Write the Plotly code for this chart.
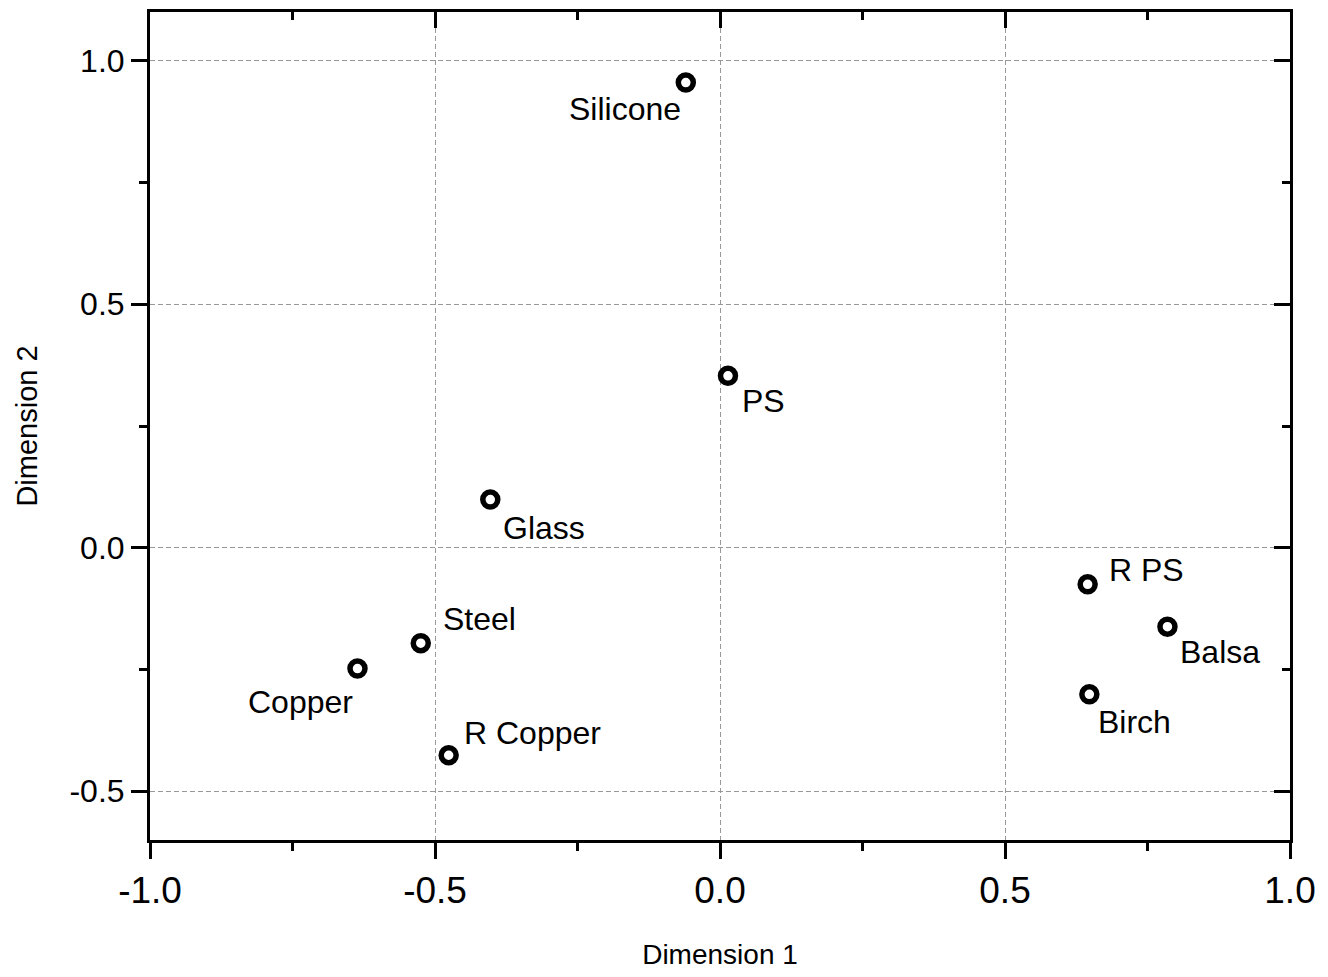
import plotly.graph_objects as go

# Data
materials = ["Silicone", "PS", "Glass", "R PS", "Balsa", "Birch", "Steel", "Copper", "R Copper"]
dim1 = [-0.060, 0.014, -0.403, 0.645, 0.785, 0.648, -0.525, -0.636, -0.476]
dim2 = [0.955, 0.353, 0.099, -0.075, -0.162, -0.301, -0.196, -0.248, -0.426]

x_ticks = [-1.0, -0.5, 0.0, 0.5, 1.0]
y_ticks = [-0.5, 0.0, 0.5, 1.0]

# Label placement (styles): anchor, xshift, yshift in px
label_style = {
    "Silicone": ("right", -3, -26),
    "PS": ("left", 12, -25),
    "Glass": ("left", 11, -28),
    "R PS": ("left", 19, 14),
    "Balsa": ("left", 11, -25),
    "Birch": ("left", 7, -28),
    "Steel": ("left", 20, 24),
    "Copper": ("right", -2, -33),
    "R Copper": ("left", 13, 22),
}

FONT = "Liberation Sans, Arial, sans-serif"
GRID = "#999999"

fig = go.Figure()
fig.add_trace(go.Scatter(
    x=dim1, y=dim2, mode="markers",
    marker=dict(symbol="circle-open", size=15, color="black", line=dict(width=5.5, color="black")),
    hoverinfo="text", text=materials, showlegend=False,
))
# invisible trace to activate mirror axes
fig.add_trace(go.Scatter(
    x=dim1, y=dim2, mode="markers", xaxis="x2", yaxis="y2",
    marker=dict(opacity=0), hoverinfo="skip", showlegend=False,
))

for name, xv, yv in zip(materials, dim1, dim2):
    anchor, xs, ys = label_style[name]
    fig.add_annotation(
        x=xv, y=yv, xref="x", yref="y", text=name, showarrow=False,
        xanchor=anchor, yanchor="middle", xshift=xs, yshift=ys,
        font=dict(family=FONT, size=32, color="black"),
    )

common_line = dict(showline=True, linecolor="black", linewidth=3)

fig.update_layout(
    width=1328, height=977,
    margin=dict(l=150, r=36, t=12, b=122),
    plot_bgcolor="white", paper_bgcolor="white",
    font=dict(family=FONT, color="black"),
    xaxis=dict(
        range=[-1, 1], tickmode="array", tickvals=x_ticks,
        ticktext=[f"{v:.1f}" for v in x_ticks],
        ticks="outside", ticklen=16, tickwidth=3, tickcolor="black",
        minor=dict(dtick=0.25, tick0=0, ticks="outside", ticklen=8, tickwidth=3, tickcolor="black", showgrid=False),
        showgrid=True, gridcolor=GRID, griddash="5px,3px", gridwidth=1,
        zeroline=False,
        tickfont=dict(size=37, family=FONT),
        title=dict(text="Dimension 1", font=dict(size=28, family=FONT), standoff=34),
        **common_line,
    ),
    yaxis=dict(
        range=[-0.6, 1.1], tickmode="array", tickvals=y_ticks,
        ticktext=[f"{v:.1f}" for v in y_ticks],
        ticks="outside", ticklen=16, tickwidth=3, tickcolor="black",
        minor=dict(dtick=0.25, tick0=0, ticks="outside", ticklen=8, tickwidth=3, tickcolor="black", showgrid=False),
        showgrid=True, gridcolor=GRID, griddash="5px,3px", gridwidth=1,
        zeroline=False,
        tickfont=dict(size=32, family=FONT),
        title=dict(text="Dimension 2", font=dict(size=29, family=FONT), standoff=24),
        **common_line,
    ),
    xaxis2=dict(
        range=[-1, 1], overlaying="x", side="top", tickmode="array", tickvals=x_ticks,
        ticks="inside", ticklen=16, tickwidth=3, tickcolor="black", showticklabels=False,
        minor=dict(dtick=0.25, tick0=0, ticks="inside", ticklen=8, tickwidth=3, tickcolor="black", showgrid=False),
        showgrid=False, zeroline=False, **common_line,
    ),
    yaxis2=dict(
        range=[-0.6, 1.1], overlaying="y", side="right", tickmode="array", tickvals=y_ticks,
        ticks="inside", ticklen=16, tickwidth=3, tickcolor="black", showticklabels=False,
        minor=dict(dtick=0.25, tick0=0, ticks="inside", ticklen=8, tickwidth=3, tickcolor="black", showgrid=False),
        showgrid=False, zeroline=False, **common_line,
    ),
)

fig.write_html(
    "out.html",
    config={"displayModeBar": False},
    post_script="document.body.style.margin='0px';document.body.style.overflow='hidden';",
)
